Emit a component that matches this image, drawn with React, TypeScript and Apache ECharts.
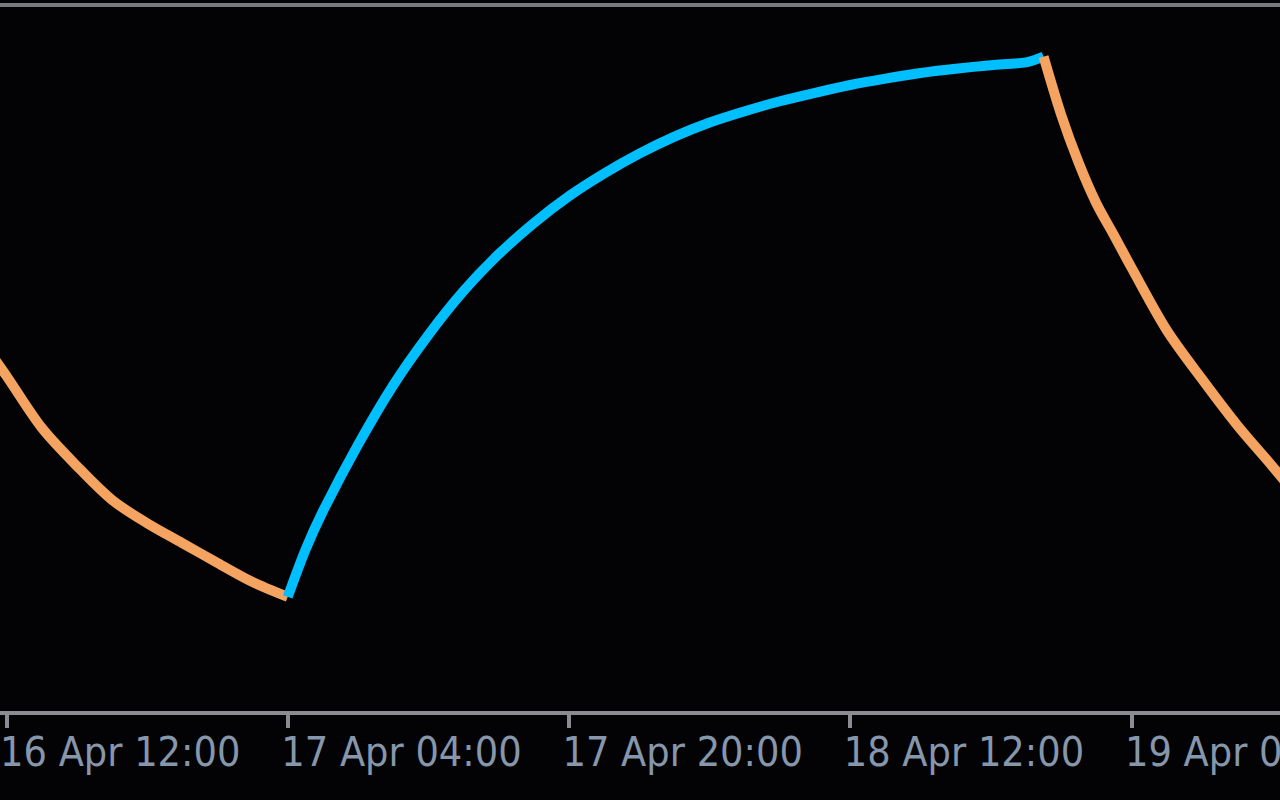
import React, { useEffect, useRef } from "react";
import * as echarts from "echarts";

// Hours counted from 16 Apr 12:00
const tickHours = [0, 16, 32, 48, 64];
const tickLabels = ["16 Apr 12:00", "17 Apr 04:00", "17 Apr 20:00", "18 Apr 12:00", "19 Apr 04:00"];

const fallingEarlyHours = [-1, 0, 2, 4, 6, 8, 10, 12, 14, 16];
const fallingEarlyValues = [51.1, 47.6, 40.3, 34.9, 30.1, 26.8, 24.0, 21.2, 18.5, 16.4];

const risingHours = [16, 17, 18, 20, 22, 24, 26, 28, 30, 32, 34, 36, 38, 40, 42, 44, 46, 48, 50, 52, 54, 56, 58, 59];
const risingValues = [16.4, 23.0, 28.5, 37.9, 46.3, 53.4, 59.6, 64.8, 69.2, 73.0, 76.2, 79.0, 81.4, 83.4, 85.0, 86.4, 87.6, 88.7, 89.6, 90.4, 91.0, 91.5, 91.9, 92.7];

const fallingLateHours = [59, 60, 61, 62, 63, 64, 66, 68, 70, 72, 73];
const fallingLateValues = [92.7, 84.5, 77.7, 72.0, 67.5, 62.9, 54.1, 47.2, 40.7, 34.9, 31.9];

const X_MIN = -0.37;
const X_MAX = 72.45;
const LABEL_SHIFT = 0.37;

const FALL_COLOR = "#F4A460";
const RISE_COLOR = "#00BFFF";

function pair(h: number[], v: number[]) {
  return h.map((x, i) => [x, v[i]]);
}

export default function App() {
  const ref = useRef<HTMLDivElement>(null);
  useEffect(() => {
    if (!ref.current) return;
    const chart = echarts.init(ref.current, null, { renderer: "svg" });
    const lineSeries = (data: number[][], color: string) => ({
      type: "line",
      data,
      showSymbol: false,
      symbol: "none",
      smooth: 0.3,
      lineStyle: { color, width: 10 },
      emphasis: { disabled: true },
      clip: true,
    });
    chart.setOption({
      animation: false,
      backgroundColor: "#030306",
      grid: { left: 0, right: 0, top: 5, bottom: 87, containLabel: false, outerBoundsMode: "none" },
      xAxis: [
        {
          type: "value",
          min: X_MIN,
          max: X_MAX,
          position: "bottom",
          splitLine: { show: false },
          axisLine: { show: true, lineStyle: { color: "#8b8b92", width: 4 } },
          axisTick: {
            show: true,
            customValues: tickHours,
            length: 15,
            lineStyle: { color: "#8b8b92", width: 4 },
          },
          axisLabel: {
            show: true,
            customValues: tickHours.map((h) => h - LABEL_SHIFT),
            formatter: (v: number) => {
              const idx = tickHours.indexOf(Math.round(v));
              return idx >= 0 ? tickLabels[idx] : "";
            },
            color: "#8696ab",
            fontFamily: "'DejaVu Sans Condensed', 'DejaVu Sans', sans-serif",
            fontSize: 41,
            align: "left",
            verticalAlign: "middle",
            margin: 39,
            hideOverlap: false,
          },
        },
        {
          type: "value",
          min: X_MIN,
          max: X_MAX,
          position: "top",
          splitLine: { show: false },
          axisLine: { show: true, lineStyle: { color: "#78787f", width: 4 } },
          axisTick: { show: false },
          axisLabel: { show: false },
        },
      ],
      yAxis: {
        type: "value",
        min: 0,
        max: 100,
        show: false,
        splitLine: { show: false },
      },
      series: [
        lineSeries(pair(fallingEarlyHours, fallingEarlyValues), FALL_COLOR),
        lineSeries(pair(risingHours, risingValues), RISE_COLOR),
        lineSeries(pair(fallingLateHours, fallingLateValues), FALL_COLOR),
      ],
    });
    return () => chart.dispose();
  }, []);
  return (
    <div
      ref={ref}
      style={{ position: "fixed", left: 0, top: 0, width: 1280, height: 800 }}
    />
  );
}
